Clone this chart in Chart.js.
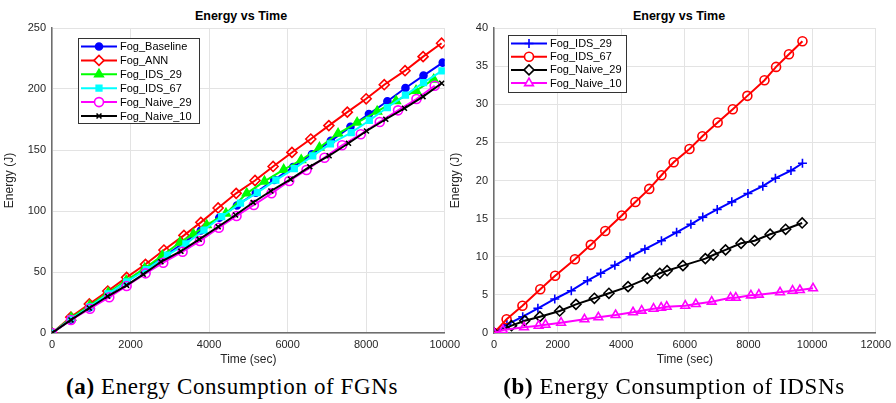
<!DOCTYPE html>
<html>
<head>
<meta charset="utf-8">
<script src="https://cdn.jsdelivr.net/npm/chart.js@4.4.1/dist/chart.umd.min.js"></script>
<style>
  body { margin: 0; background: #fff; width: 896px; height: 403px; position: relative; overflow: hidden;
         font-family: "Liberation Sans", Arial, sans-serif; }
  canvas { position: absolute; top: 0; }
  .ttl { position: absolute; top: 9px; font-weight: bold; font-size: 12.5px; transform: translateX(-50%); white-space: nowrap; color: #000; }
  .cap { position: absolute; top: 374px; font-family: "Liberation Serif", serif; font-size: 23px; letter-spacing: 0.6px; transform: translateX(-50%); white-space: nowrap; color: #000; }
</style>
</head>
<body>
<div class="ttl" style="left:241px">Energy vs Time</div>
<div class="ttl" style="left:679px">Energy vs Time</div>
<canvas id="fgn" width="465" height="372" style="left:0"></canvas>
<canvas id="idsn" width="450" height="372" style="left:446px"></canvas>
<div class="cap" style="left:232px"><b>(a)</b> Energy Consumption of FGNs</div>
<div class="cap" style="left:674px"><b>(b)</b> Energy Consumption of IDSNs</div>
<script>
// ---- (a) FGNs : time (sec) / energy (J)
const baseT  = [0,480,950,1420,1900,2380,2850,3330,3790,4260,4710,5190,5660,6140,6620,7100,7600,8070,8540,9000,9460,9950];
const baseE  = [0,11,21,31.5,42,52.5,62.5,73.5,84,94.5,104.5,115,125.5,136,146.5,157.5,169,179.5,190,200.8,211,221.6];
const annT   = [0,480,950,1420,1900,2380,2850,3360,3790,4230,4690,5170,5630,6110,6590,7050,7520,8000,8460,8990,9450,9920];
const annE   = [0,13,23.8,34.4,45.6,56.3,68,80,90.7,102.5,114.5,125,136.5,148,159,170,181,192,203.5,215,226.5,237.5];
const ids29T = [0,490,960,1430,1890,2360,2810,3260,3600,3940,4430,4960,5410,5900,6345,6810,7285,7770,8280,8760,9270,9720];
const ids29E = [0,12.5,22.5,33,43,53,63.5,74.3,81,88.5,98,114.5,124.3,133.9,141.8,152,163.5,172.5,181.7,190.3,198.7,207.8];
const ids67T = [0,480,960,1430,1900,2400,2940,3410,3870,4320,4800,5230,5700,6170,6640,7090,7620,8080,8540,9000,9460,9930];
const ids67E = [0,11.5,21.5,32,42,52,63.9,73,84.4,95.3,106.5,115,125.3,134.8,145.2,155,164.2,174.2,184.8,195,205.2,214.9];
const nv29T  = [0,483,967,1458,1900,2384,2832,3325,3766,4249,4699,5140,5590,6040,6481,6939,7387,7863,8346,8812,9281,9746];
const nv29E  = [0,10.7,19.9,29.3,38.5,48.9,57.6,66.6,75.4,86.3,95.9,104.9,114.5,124.6,133.6,143.7,153.9,162.9,173,182.5,191.8,202.7];
const nv10T  = [0,483,949,1417,1900,2323,2774,3282,3748,4232,4674,5122,5573,6073,6565,7057,7550,8008,8499,8975,9448,9924];
const nv10E  = [0,10.7,20.5,30.1,39.1,48.1,58.4,67,76.8,87.1,96.7,107,116.4,126,136.3,145.3,155.5,165.6,175.2,184.2,193.7,204.7];

// ---- (b) IDSNs
const bIds29T = [0,405,903,1380,1910,2430,2937,3355,3800,4277,4744,5264,5741,6190,6563,7018,7476,7984,8451,8847,9336,9697];
const bIds29E = [0,1.1,2.14,3.24,4.46,5.55,6.86,7.83,8.88,10.0,11.0,12.1,13.2,14.26,15.2,16.2,17.2,18.3,19.25,20.3,21.3,22.26];
const bIds67T = [0,396,894,1455,1922,2545,3043,3498,4018,4445,4881,5264,5648,6146,6551,7031,7507,7965,8504,8868,9273,9697];
const bIds67E = [0,1.8,3.58,5.73,7.5,9.68,11.56,13.38,15.41,17.18,18.9,20.69,22.4,24.14,25.8,27.6,29.35,31.1,33.15,34.9,36.56,38.27];
const bNv29T  = [0,551,966,1442,2065,2576,3156,3613,4215,4819,5212,5442,5940,6644,6893,7280,7767,8193,8681,9168,9688];
const bNv29E  = [0,0.96,1.61,2.14,2.89,3.76,4.55,5.21,6.08,7.17,7.83,8.17,8.83,9.75,10.23,10.9,11.77,12.1,12.95,13.6,14.43];
const bNv10T  = [0,280,944,1402,1620,2109,2844,3280,3822,4370,4642,5015,5255,5430,6012,6345,6844,7436,7601,8077,8327,8993,9386,9616,10030];
const bNv10E  = [0,0.39,0.75,0.96,1.09,1.35,1.80,2.06,2.36,2.72,2.93,3.19,3.32,3.45,3.58,3.80,4.11,4.63,4.63,4.94,5.03,5.34,5.55,5.64,5.86];

const GRID = '#e3e3e3', AXIS = '#6e6e6e', TXT = '#262626';

function series(label, t, e, color, style, hollow, r, idx) {
  return {
    label: label,
    data: t.map((x, i) => ({ x: x, y: e[i] })),
    borderColor: color,
    backgroundColor: color,
    pointBackgroundColor: hollow ? 'rgba(0,0,0,0)' : color,
    pointBorderColor: color,
    pointStyle: style,
    pointRadius: r,
    pointBorderWidth: 1.6,
    borderWidth: 2,
    order: 10 - idx   // last dataset on top, like matlab
  };
}

// legend drawn inside the axes, with box
const boxLegend = {
  id: 'boxLegend',
  afterDraw(chart, args, o) {
    const ctx = chart.ctx;
    ctx.save();
    ctx.fillStyle = '#fff';
    ctx.fillRect(o.x, o.y, o.w, o.h);
    ctx.strokeStyle = '#333';
    ctx.lineWidth = 1;
    ctx.strokeRect(o.x + 0.5, o.y + 0.5, o.w, o.h);
    chart.data.datasets.forEach((ds, i) => {
      const y = o.y + o.first + i * o.rowH;
      const x0 = o.x + 3, x1 = o.x + o.lineW;
      ctx.strokeStyle = ds.borderColor;
      ctx.lineWidth = 2;
      ctx.beginPath(); ctx.moveTo(x0, y); ctx.lineTo(x1, y); ctx.stroke();
      ctx.fillStyle = ds.pointBackgroundColor === 'rgba(0,0,0,0)' ? '#fff' : ds.pointBackgroundColor;
      ctx.strokeStyle = ds.borderColor;
      ctx.lineWidth = ds.pointBorderWidth;
      Chart.helpers.drawPoint(ctx, { pointStyle: ds.pointStyle, radius: ds.pointRadius, borderWidth: ds.pointBorderWidth, rotation: 0 }, (x0 + x1) / 2, y);
      ctx.fillStyle = '#000';
      ctx.font = '11px "Liberation Sans", Arial, sans-serif';
      ctx.textBaseline = 'middle';
      ctx.fillText(ds.label, x1 + 3, y + 0.5);
    });
    ctx.restore();
  }
};

function axes(xMax, yMax, yStep, yW) {
  const tickFont = { family: '"Liberation Sans", Arial, sans-serif', size: 11 };
  const ttlFont = { family: '"Liberation Sans", Arial, sans-serif', size: 12 };
  return {
    x: {
      type: 'linear', min: 0, max: xMax,
      ticks: { stepSize: 2000, color: TXT, font: tickFont, padding: 5, maxRotation: 0, callback: v => String(v) },
      grid: { color: GRID, drawTicks: false },
      border: { color: AXIS, width: 1.5 },
      title: { display: true, text: 'Time (sec)', color: TXT, font: ttlFont, padding: { top: 2, bottom: 5 } },
      afterFit: s => { s.height = 39; }
    },
    y: {
      type: 'linear', min: 0, max: yMax,
      ticks: { stepSize: yStep, color: TXT, font: tickFont, padding: 6, callback: v => String(v) },
      grid: { color: GRID, drawTicks: false },
      border: { color: AXIS, width: 1.5 },
      title: { display: true, text: 'Energy (J)', color: TXT, font: ttlFont, padding: { top: 2, bottom: 7 } },
      afterFit: s => { s.width = yW; }
    }
  };
}

function makeChart(id, datasets, scales, padRight, legend) {
  return new Chart(document.getElementById(id), {
    type: 'line',
    data: { datasets: datasets },
    options: {
      responsive: false,
      animation: false,
      devicePixelRatio: 1,
      layout: { padding: { top: 28, right: padRight, left: 0, bottom: 0 } },
      scales: scales,
      plugins: { legend: { display: false }, tooltip: { enabled: false }, title: { display: false }, boxLegend: legend }
    },
    plugins: [boxLegend]
  });
}

makeChart('fgn', [
  series('Fog_Baseline', baseT, baseE, '#0000ff', 'circle', false, 3.5, 0),
  series('Fog_ANN', annT, annE, '#ff0000', 'rectRot', true, 5, 1),
  series('Fog_IDS_29', ids29T, ids29E, '#00ff00', 'triangle', false, 5, 2),
  series('Fog_IDS_67', ids67T, ids67E, '#00ffff', 'rect', false, 4, 3),
  series('Fog_Naive_29', nv29T, nv29E, '#ff00ff', 'circle', true, 4.5, 4),
  series('Fog_Naive_10', nv10T, nv10E, '#000000', 'crossRot', false, 3.5, 5)
], axes(10000, 250, 50, 52), 20, { x: 78, y: 38, w: 121, h: 85, first: 8.5, rowH: 13.9, lineW: 39 });

makeChart('idsn', [
  series('Fog_IDS_29', bIds29T, bIds29E, '#0000ff', 'cross', false, 4.5, 0),
  series('Fog_IDS_67', bIds67T, bIds67E, '#ff0000', 'circle', true, 4.5, 1),
  series('Fog_Naive_29', bNv29T, bNv29E, '#000000', 'rectRot', true, 5, 2),
  series('Fog_Naive_10', bNv10T, bNv10E, '#ff00ff', 'triangle', true, 5, 3)
], axes(12000, 40, 5, 48), 17, { x: 62, y: 35, w: 118, h: 57, first: 8.5, rowH: 13.2, lineW: 39 });
</script>
</body>
</html>
